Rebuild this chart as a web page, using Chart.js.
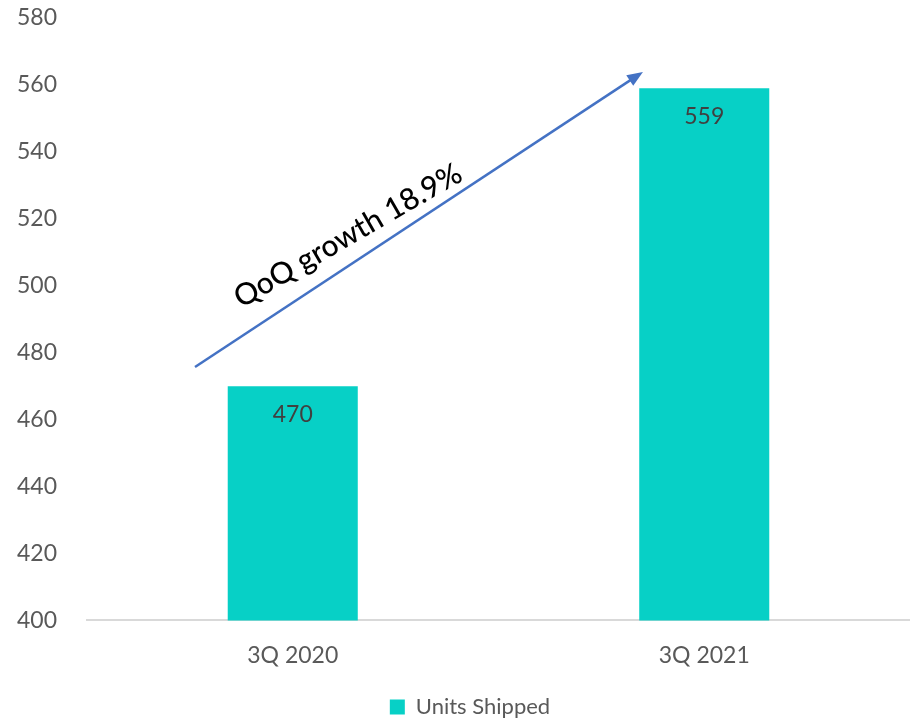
<!DOCTYPE html>
<html>
<head>
<meta charset="utf-8">
<script src="https://cdn.jsdelivr.net/npm/chart.js@4/dist/chart.umd.min.js"></script>
<style>
  html, body { margin: 0; padding: 0; background: #fff; }
  #wrap { width: 910px; height: 724px; position: relative; }
</style>
</head>
<body>
<div id="wrap"><canvas id="c"></canvas></div>
<script>
// Quarterly shipments
const quarters = ['3Q 2020', '3Q 2021'];
const unitsShipped = [470, 559];
const yTicks = [400, 420, 440, 460, 480, 500, 520, 540, 560, 580];
const growthLabel = 'QoQ growth 18.9%';

const BAR = '#07d0c6';
const TEXT = '#595959';

// Value labels just inside the top of each bar
const valueLabels = {
  id: 'valueLabels',
  afterDatasetsDraw(chart) {
    const ctx = chart.ctx;
    const meta = chart.getDatasetMeta(0);
    ctx.save();
    ctx.font = '23px Lato, sans-serif';
    ctx.fillStyle = '#404040';
    ctx.textAlign = 'center';
    ctx.textBaseline = 'middle';
    meta.data.forEach((bar, i) => {
      ctx.fillText(String(unitsShipped[i]), bar.x, bar.y + 28);
    });
    ctx.restore();
  }
};

// Growth arrow from the first bar toward the second, with a rotated caption
const growthArrow = {
  id: 'growthArrow',
  afterDraw(chart) {
    const x = chart.scales.x, y = chart.scales.y;
    const step = x.getPixelForValue(1) - x.getPixelForValue(0);
    const x0 = x.getPixelForValue(0) - 0.2375 * step;
    const y0 = y.getPixelForValue(475.7);
    const x1 = x.getPixelForValue(1) - 0.149 * step;
    const y1 = y.getPixelForValue(563.9);
    const ang = Math.atan2(y1 - y0, x1 - x0);
    const ctx = chart.ctx;
    ctx.save();
    ctx.strokeStyle = '#4472c4';
    ctx.fillStyle = '#4472c4';
    ctx.lineWidth = 2.5;
    const head = 17;
    ctx.beginPath();
    ctx.moveTo(x0, y0);
    ctx.lineTo(x1 - Math.cos(ang) * head * 0.8, y1 - Math.sin(ang) * head * 0.8);
    ctx.stroke();
    ctx.beginPath();
    ctx.moveTo(x1, y1);
    ctx.lineTo(x1 - head * Math.cos(ang - 0.38), y1 - head * Math.sin(ang - 0.38));
    ctx.lineTo(x1 - head * Math.cos(ang + 0.38), y1 - head * Math.sin(ang + 0.38));
    ctx.closePath();
    ctx.fill();
    // caption, tilted slightly flatter than the arrow
    const t = 0.37;
    const cx = x0 + (x1 - x0) * t;
    const cy = y0 + (y1 - y0) * t;
    ctx.translate(cx, cy);
    ctx.rotate(-30 * Math.PI / 180);
    ctx.font = '500 30px Lato, sans-serif';
    ctx.fillStyle = '#000';
    ctx.textAlign = 'center';
    ctx.textBaseline = 'alphabetic';
    ctx.fillText(growthLabel, 0, -16);
    ctx.restore();
  }
};

// Nudge the legend a little right of the canvas centre
const legendShift = {
  id: 'legendShift',
  afterLayout(chart) {
    if (chart.legend) {
      chart.legend.left += 15;
      chart.legend.right += 15;
    }
  }
};

new Chart(document.getElementById('c'), {
  type: 'bar',
  data: {
    labels: quarters,
    datasets: [{
      label: 'Units Shipped',
      data: unitsShipped,
      backgroundColor: BAR,
      borderWidth: 0,
      barPercentage: 0.632,
      categoryPercentage: 0.5
    }]
  },
  options: {
    responsive: true,
    maintainAspectRatio: false,
    animation: false,
    layout: { padding: { top: 18, right: 0, left: 0, bottom: -4 } },
    plugins: {
      tooltip: { enabled: false },
      legend: {
        position: 'bottom',
        labels: {
          color: TEXT,
          font: { size: 22, family: 'Lato, sans-serif' },
          boxWidth: 15,
          boxHeight: 15,
          padding: 6
        }
      }
    },
    scales: {
      x: {
        grid: { display: false, drawTicks: false },
        border: { display: true, color: '#d9d9d9', width: 2 },
        ticks: {
          color: TEXT,
          padding: 21,
          font: { size: 23, family: 'Lato, sans-serif' }
        }
      },
      y: {
        min: 400,
        max: 580,
        afterBuildTicks(axis) { axis.ticks = yTicks.map(v => ({ value: v })); },
        afterFit(axis) {
          axis.width = 87;
          axis.paddingTop = 0;
          axis.paddingBottom = 0;
        },
        grid: { display: false, drawTicks: false },
        border: { display: false },
        ticks: {
          color: TEXT,
          padding: 30,
          font: { size: 23, family: 'Lato, sans-serif' }
        }
      }
    }
  },
  plugins: [valueLabels, growthArrow, legendShift]
});
</script>
</body>
</html>
